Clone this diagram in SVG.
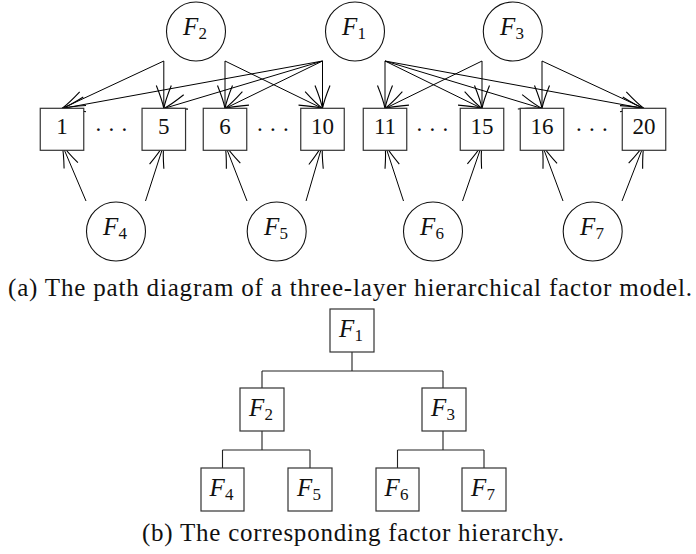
<svg xmlns="http://www.w3.org/2000/svg" width="696" height="554" viewBox="0 0 696 554">
<style>
.c{fill:none;stroke:#111;stroke-width:1.1}
.b{fill:#fff;stroke:#333;stroke-width:1.2}
.t{font-family:"Liberation Serif","DejaVu Serif",serif;fill:#111}
.num{font-size:23px;text-anchor:middle}
.lab{font-size:25px;text-anchor:middle}
.cap{font-size:25px;text-anchor:middle}
.dots{font-size:23px;letter-spacing:7.2px}
.a{stroke:#000;stroke-width:1;fill:none;marker-end:url(#ah)}
.tl{stroke:#222;stroke-width:1.1;fill:none}
</style>
<defs>
<marker id="ah" markerUnits="userSpaceOnUse" orient="auto" refX="0" refY="0" markerWidth="30" markerHeight="20" viewBox="-25 -10 27 20" overflow="visible">
<path d="M-23,-7.5 Q-8,-1.5 0,0 Q-8,1.5 -23,7.5" fill="none" stroke="#000" stroke-width="1.1"/>
</marker>
</defs>

<g id="connectors">
<line class="a" x1="163.8" y1="61" x2="62" y2="108.5"/>
<line class="a" x1="163.8" y1="61" x2="163.8" y2="108.5"/>
<line class="a" x1="225" y1="61" x2="225" y2="108.5"/>
<line class="a" x1="225" y1="61" x2="322.5" y2="108.5"/>
<line class="a" x1="322.5" y1="61" x2="62" y2="108.5"/>
<line class="a" x1="322.5" y1="61" x2="163.8" y2="108.5"/>
<line class="a" x1="322.5" y1="61" x2="225" y2="108.5"/>
<line class="a" x1="322.5" y1="61" x2="322.5" y2="108.5"/>
<line class="a" x1="385" y1="61" x2="385" y2="108.5"/>
<line class="a" x1="385" y1="61" x2="482" y2="108.5"/>
<line class="a" x1="385" y1="61" x2="542" y2="108.5"/>
<line class="a" x1="385" y1="61" x2="644" y2="108.5"/>
<line class="a" x1="482" y1="61" x2="385" y2="108.5"/>
<line class="a" x1="482" y1="61" x2="482" y2="108.5"/>
<line class="a" x1="542" y1="61" x2="542" y2="108.5"/>
<line class="a" x1="542" y1="61" x2="644" y2="108.5"/>
<line class="a" x1="86" y1="201" x2="62" y2="144.5"/>
<line class="a" x1="145.5" y1="201" x2="163.8" y2="144.5"/>
<line class="a" x1="247" y1="201" x2="225" y2="144.5"/>
<line class="a" x1="306" y1="201" x2="322.5" y2="144.5"/>
<line class="a" x1="403.5" y1="201" x2="385" y2="144.5"/>
<line class="a" x1="462.5" y1="201" x2="482" y2="144.5"/>
<line class="a" x1="563" y1="201" x2="542" y2="144.5"/>
<line class="a" x1="622" y1="201" x2="644" y2="144.5"/>
<path class="tl" d="M352,352V371M262,371H443M262,371V388M443,371V388"/>
<path class="tl" d="M262,431V450M222.5,450H310M222.5,450V468M310,450V468"/>
<path class="tl" d="M443,431V450M397.5,450H484M397.5,450V468M484,450V468"/>
</g>

<g id="F1"><circle class="c" cx="355" cy="31.5" r="29.5"/><text class="t lab" x="354" y="35"><tspan font-style="italic">F</tspan><tspan font-size="17" dy="3.5">1</tspan></text></g>
<g id="F2"><circle class="c" cx="196" cy="31.5" r="29.5"/><text class="t lab" x="195" y="35"><tspan font-style="italic">F</tspan><tspan font-size="17" dy="3.5">2</tspan></text></g>
<g id="F3"><circle class="c" cx="512.8" cy="31.5" r="29.5"/><text class="t lab" x="512" y="35"><tspan font-style="italic">F</tspan><tspan font-size="17" dy="3.5">3</tspan></text></g>
<g id="F4"><circle class="c" cx="116" cy="231.5" r="29.5"/><text class="t lab" x="115" y="235"><tspan font-style="italic">F</tspan><tspan font-size="17" dy="3.5">4</tspan></text></g>
<g id="F5"><circle class="c" cx="276.7" cy="231.5" r="29.5"/><text class="t lab" x="276" y="235"><tspan font-style="italic">F</tspan><tspan font-size="17" dy="3.5">5</tspan></text></g>
<g id="F6"><circle class="c" cx="433" cy="231.5" r="29.5"/><text class="t lab" x="432" y="235"><tspan font-style="italic">F</tspan><tspan font-size="17" dy="3.5">6</tspan></text></g>
<g id="F7"><circle class="c" cx="592.7" cy="231.5" r="29.5"/><text class="t lab" x="592" y="235"><tspan font-style="italic">F</tspan><tspan font-size="17" dy="3.5">7</tspan></text></g>

<g id="v1"><rect class="b" x="40.25" y="108.3" width="43.5" height="42"/><text class="t num" x="62" y="134">1</text></g>
<g id="v5"><rect class="b" x="142.05" y="108.3" width="43.5" height="42"/><text class="t num" x="163.8" y="134">5</text></g>
<g id="v6"><rect class="b" x="203.25" y="108.3" width="43.5" height="42"/><text class="t num" x="225" y="134">6</text></g>
<g id="v10"><rect class="b" x="300.75" y="108.3" width="43.5" height="42"/><text class="t num" x="322.5" y="134">10</text></g>
<g id="v11"><rect class="b" x="363.25" y="108.3" width="43.5" height="42"/><text class="t num" x="385" y="134">11</text></g>
<g id="v15"><rect class="b" x="460.25" y="108.3" width="43.5" height="42"/><text class="t num" x="482" y="134">15</text></g>
<g id="v16"><rect class="b" x="520.25" y="108.3" width="43.5" height="42"/><text class="t num" x="542" y="134">16</text></g>
<g id="v20"><rect class="b" x="622.25" y="108.3" width="43.5" height="42"/><text class="t num" x="644" y="134">20</text></g>

<g id="dots">
<text class="t dots" x="95.5" y="131">...</text>
<text class="t dots" x="257" y="131">...</text>
<text class="t dots" x="416.5" y="131">...</text>
<text class="t dots" x="576" y="131">...</text>
</g>

<text class="t cap" x="350" y="296" textLength="684" lengthAdjust="spacing">(a) The path diagram of a three-layer hierarchical factor model.</text>

<g id="T1"><rect class="b" x="330" y="309" width="44" height="43"/><text class="t lab" x="351" y="337"><tspan font-style="italic">F</tspan><tspan font-size="17" dy="3.5">1</tspan></text></g>
<g id="T2"><rect class="b" x="240" y="388" width="44" height="43"/><text class="t lab" x="261" y="416"><tspan font-style="italic">F</tspan><tspan font-size="17" dy="3.5">2</tspan></text></g>
<g id="T3"><rect class="b" x="422" y="388" width="44" height="43"/><text class="t lab" x="443" y="416"><tspan font-style="italic">F</tspan><tspan font-size="17" dy="3.5">3</tspan></text></g>
<g id="T4"><rect class="b" x="201" y="468" width="43" height="43"/><text class="t lab" x="221.5" y="496"><tspan font-style="italic">F</tspan><tspan font-size="17" dy="3.5">4</tspan></text></g>
<g id="T5"><rect class="b" x="288" y="468" width="44" height="43"/><text class="t lab" x="309" y="496"><tspan font-style="italic">F</tspan><tspan font-size="17" dy="3.5">5</tspan></text></g>
<g id="T6"><rect class="b" x="376" y="468" width="43" height="43"/><text class="t lab" x="396.5" y="496"><tspan font-style="italic">F</tspan><tspan font-size="17" dy="3.5">6</tspan></text></g>
<g id="T7"><rect class="b" x="462" y="468" width="44" height="43"/><text class="t lab" x="483" y="496"><tspan font-style="italic">F</tspan><tspan font-size="17" dy="3.5">7</tspan></text></g>

<text class="t cap" x="353" y="541" textLength="422" lengthAdjust="spacing">(b) The corresponding factor hierarchy.</text>
</svg>
